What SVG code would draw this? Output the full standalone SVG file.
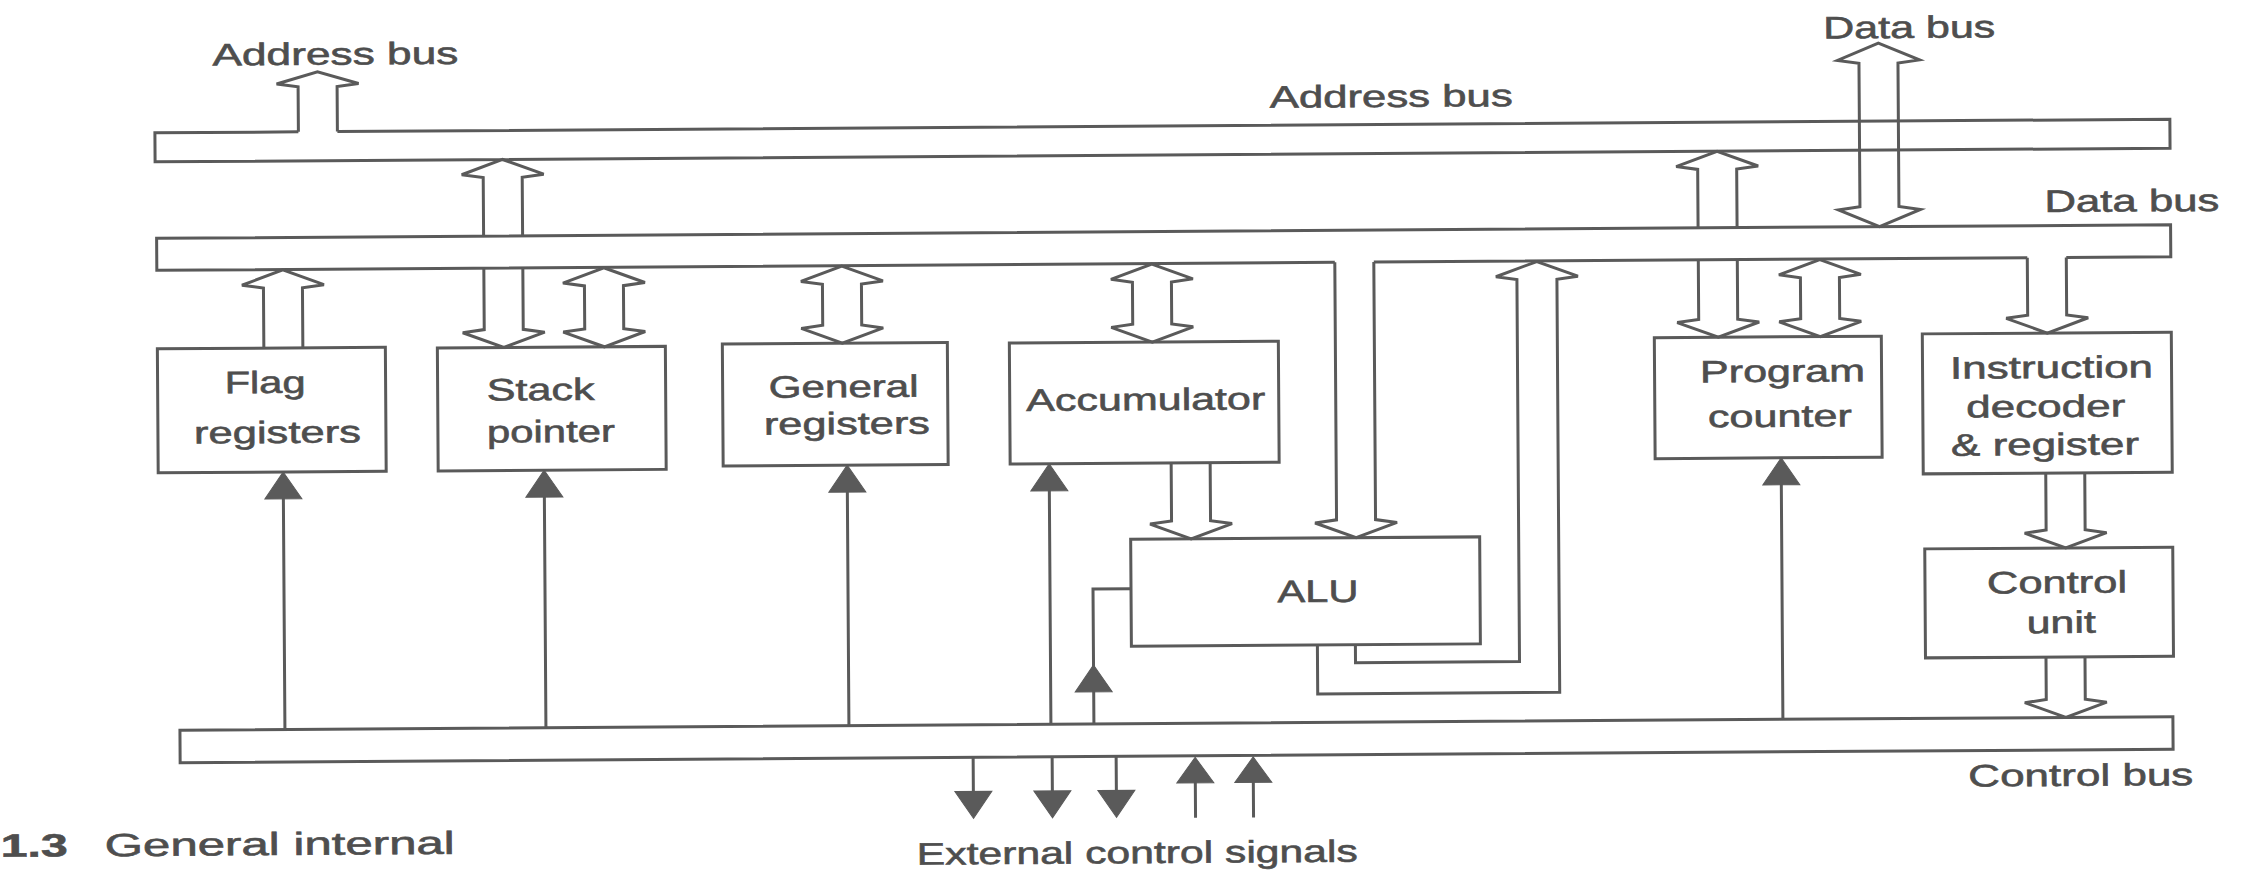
<svg xmlns="http://www.w3.org/2000/svg" width="2243" height="873" viewBox="0 0 2243 873">
<style>
.ln{fill:none;stroke:#5a5a5a;stroke-width:3;stroke-linejoin:miter;stroke-linecap:butt}
.box{fill:#fff;stroke:#5a5a5a;stroke-width:3}
.hd{fill:#5a5a5a;stroke:#5a5a5a;stroke-width:1}
.t{font-family:"Liberation Sans",Arial,sans-serif;font-size:31px;fill:#4e4e4e;stroke:#4e4e4e;stroke-width:0.6}
.c{text-anchor:middle}
</style>
<rect width="2243" height="873" fill="#fff"/>
<g transform="rotate(-0.387 1165 440)">
<g id="address-bus">
<path class="ln" d="M300.5,126 H157 V155 H2172 V126 H339.5"/>
<text class="t" x="215" y="59" textLength="246" lengthAdjust="spacingAndGlyphs">Address bus</text>
<text class="t" x="1272" y="108.5" textLength="243" lengthAdjust="spacingAndGlyphs">Address bus</text>
<text class="t" x="1826" y="43" textLength="172" lengthAdjust="spacingAndGlyphs">Data bus</text>
</g>
<g id="data-bus">
<path class="ln" d="M1336,263.5 H158 V231.5 H2172 V263.5 H2067.5 M2028.5,263.5 H1375"/>
<text class="t" x="2046" y="218" textLength="175" lengthAdjust="spacingAndGlyphs">Data bus</text>
</g>
<g id="control-bus">
<rect class="ln" x="178" y="723.5" width="1993" height="32.5"/>
<text class="t" x="1966" y="792" textLength="225" lengthAdjust="spacingAndGlyphs">Control bus</text>
<text class="t" x="914" y="863" textLength="441" lengthAdjust="spacingAndGlyphs">External control signals</text>
</g>
<g id="flag-registers">
<rect class="box" x="158" y="342" width="228" height="124"/>
<text class="t c" x="265.5" y="387" textLength="81" lengthAdjust="spacingAndGlyphs">Flag</text>
<text class="t c" x="277.5" y="437" textLength="167" lengthAdjust="spacingAndGlyphs">registers</text>
</g>
<g id="stack-pointer">
<rect class="box" x="438" y="343" width="228" height="123"/>
<text class="t c" x="541" y="396" textLength="108" lengthAdjust="spacingAndGlyphs">Stack</text>
<text class="t c" x="551" y="438" textLength="128" lengthAdjust="spacingAndGlyphs">pointer</text>
</g>
<g id="general-registers">
<rect class="box" x="723" y="341" width="225" height="122"/>
<text class="t c" x="844" y="395" textLength="150" lengthAdjust="spacingAndGlyphs">General</text>
<text class="t c" x="847" y="432" textLength="166" lengthAdjust="spacingAndGlyphs">registers</text>
</g>
<g id="accumulator">
<rect class="box" x="1010" y="342" width="269" height="121"/>
<text class="t c" x="1146" y="410" textLength="239" lengthAdjust="spacingAndGlyphs">Accumulator</text>
</g>
<g id="alu">
<rect class="box" x="1130" y="539" width="349" height="107"/>
<text class="t c" x="1317" y="603" textLength="81" lengthAdjust="spacingAndGlyphs">ALU</text>
</g>
<g id="program-counter">
<rect class="box" x="1655" y="341" width="227" height="121"/>
<text class="t c" x="1783" y="386" textLength="165" lengthAdjust="spacingAndGlyphs">Program</text>
<text class="t c" x="1780" y="431" textLength="144" lengthAdjust="spacingAndGlyphs">counter</text>
</g>
<g id="instruction-decoder">
<rect class="box" x="1923" y="339" width="249" height="140"/>
<text class="t c" x="2052" y="384" textLength="203" lengthAdjust="spacingAndGlyphs">Instruction</text>
<text class="t c" x="2046" y="423" textLength="159" lengthAdjust="spacingAndGlyphs">decoder</text>
<text class="t c" x="2045" y="461" textLength="188" lengthAdjust="spacingAndGlyphs">&amp; register</text>
</g>
<g id="control-unit">
<rect class="box" x="1924" y="554" width="248" height="109"/>
<text class="t c" x="2056" y="599" textLength="140" lengthAdjust="spacingAndGlyphs">Control</text>
<text class="t c" x="2060" y="639" textLength="69" lengthAdjust="spacingAndGlyphs">unit</text>
</g>
<g id="connectors">
<path class="ln" d="M300.5,126 V81 L279,78 L320,66 L361,78 L339.5,81 V126"/>
<path class="ln" d="M485,231.5 V173 L463.5,170 L504.5,155 L545.5,170 L524,173 V231.5"/>
<path class="ln" d="M485,263.5 V325 L463.5,328 L504.5,343 L545.5,328 L524,325 V263.5"/>
<path class="ln" d="M605,264 L646,279 L624.5,282 V325 L646,328 L605,343 L564,328 L585.5,325 V282 L564,279 Z"/>
<path class="ln" d="M264.5,342 V282 L243,279 L284,264 L325,279 L303.5,282 V342"/>
<path class="ln" d="M843,264 L884,279 L862.5,282 V323 L884,326 L843,341 L802,326 L823.5,323 V282 L802,279 Z"/>
<path class="ln" d="M1153,264 L1194,279 L1172.5,282 V324 L1194,327 L1153,342 L1112,327 L1133.5,324 V282 L1112,279 Z"/>
<path class="ln" d="M1336,263.5 V521 L1314.5,524 L1355.5,539 L1396.5,524 L1375,521 V263.5"/>
<path class="ln" d="M1171,463 V521 L1149.5,524 L1190.5,539 L1231.5,524 L1210,521 V463"/>
<path class="ln" d="M1316,646 V695 H1558 V282 L1579,279 L1538,264 L1497,279 L1518,282 V664 H1354 V646"/>
<path class="ln" d="M1699.5,231.5 V173 L1678,170 L1719,155 L1760,170 L1738.5,173 V231.5"/>
<path class="ln" d="M1699.5,263.5 V323 L1678,326 L1719,341 L1760,326 L1738.5,323 V263.5"/>
<path class="ln" d="M1821,264 L1862,279 L1840.5,282 V323 L1862,326 L1821,341 L1780,326 L1801.5,323 V282 L1780,279 Z"/>
<path class="ln" d="M1881,48 L1922,65 L1900.5,68 V211.5 L1922,214.5 L1881,231.5 L1840,214.5 L1861.5,211.5 V68 L1840,65 Z"/>
<path class="ln" d="M2028.5,263.5 V321 L2007,324 L2048,339 L2089,324 L2067.5,321 V263.5"/>
<path class="ln" d="M2045.5,479 V536 L2024,539 L2065,554 L2106,539 L2084.5,536 V479"/>
<path class="ln" d="M2044.5,663 V705.5 L2023,708.5 L2064,723.5 L2105,708.5 L2083.5,705.5 V663"/>
<g>
<path class="ln" d="M283,723.5 V490 M544,723.5 V490 M847,723.5 V487 M1049,723.5 V487 M1781,723.5 V486 M1092,723.5 V588.5 H1130"/>
<polygon class="hd" points="283,466 301.5,493 264.5,493"/>
<polygon class="hd" points="544,466 562.5,493 525.5,493"/>
<polygon class="hd" points="847,463 865.5,490 828.5,490"/>
<polygon class="hd" points="1049,463 1067.5,490 1030.5,490"/>
<polygon class="hd" points="1781,462 1799.5,489 1762.5,489"/>
<polygon class="hd" points="1092,664.5 1110.5,691.5 1073.5,691.5"/>
</g>
<g>
<path class="ln" d="M971,756 V792 M1050,756 V792 M1114,756 V792 M1193,780 V818 M1251,780 V818"/>
<polygon class="hd" points="952.5,790 989.5,790 971,817"/>
<polygon class="hd" points="1031.5,790 1068.5,790 1050,817"/>
<polygon class="hd" points="1095.5,790 1132.5,790 1114,817"/>
<polygon class="hd" points="1193,757.5 1211.5,783 1174.5,783"/>
<polygon class="hd" points="1251,757.5 1269.5,783 1232.5,783"/>
</g>
</g>
<g id="caption">
<text class="t" x="-2" y="849" style="font-size:32px;font-weight:bold" textLength="67" lengthAdjust="spacingAndGlyphs">1.3</text>
<text class="t" x="102" y="849" style="font-size:32px" textLength="350" lengthAdjust="spacingAndGlyphs">General internal</text>
</g>
</g>
</svg>
